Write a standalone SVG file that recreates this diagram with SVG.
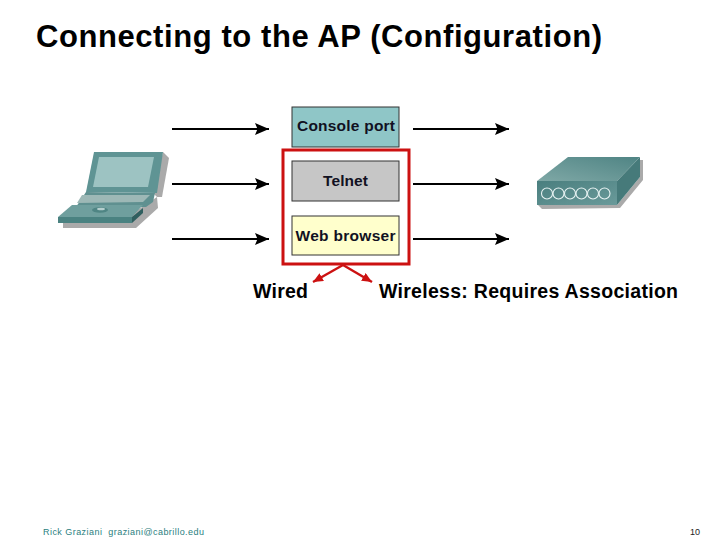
<svg xmlns="http://www.w3.org/2000/svg" width="720" height="540" viewBox="0 0 720 540">
<defs>
<marker id="ah" markerUnits="userSpaceOnUse" markerWidth="14" markerHeight="12" refX="14" refY="6" orient="auto"><path d="M0 0L14 6L0 12L2.500 6Z" fill="#000"/></marker>
<marker id="rh" markerUnits="userSpaceOnUse" markerWidth="10" markerHeight="9" refX="10" refY="4.500" orient="auto"><path d="M0 0L10 4.500L0 9Z" fill="#cc1111"/></marker>
<linearGradient id="top" x1="0" y1="1" x2="1" y2="0"><stop offset="0" stop-color="#7fa8a6"/><stop offset="1" stop-color="#4f8484"/></linearGradient>
<linearGradient id="side" x1="0" y1="0" x2="1" y2="1"><stop offset="0" stop-color="#4a7f7f"/><stop offset="1" stop-color="#6a9a9a"/></linearGradient>
</defs>
<style>
text{font-family:"Liberation Sans",Arial,sans-serif;fill:#000}
.box{stroke:#333;stroke-width:1}
.bl{font-size:15.500px;font-weight:bold;text-anchor:middle;fill:#112}
.lbl{font-size:19.500px;font-weight:bold}
.ar{stroke:#000;stroke-width:2.200;fill:none;marker-end:url(#ah)}
.rd{stroke:#cc1111;stroke-width:2.400;fill:none;marker-end:url(#rh)}
.foot{font-size:9px;fill:#2a8080;white-space:pre}
</style>
<text id="title" x="36" y="47" font-size="31" font-weight="bold" textLength="566" lengthAdjust="spacing">Connecting to the AP (Configuration)</text>
<g id="connectors">
<line class="ar" x1="172" y1="129" x2="269" y2="129"/>
<line class="ar" x1="172" y1="184" x2="269" y2="184"/>
<line class="ar" x1="172" y1="239" x2="269" y2="239"/>
<line class="ar" x1="413" y1="129" x2="509" y2="129"/>
<line class="ar" x1="413" y1="184" x2="509" y2="184"/>
<line class="ar" x1="413" y1="239" x2="509" y2="239"/>
<path class="rd" d="M343 265L313 282"/>
<path class="rd" d="M343 265L372 282"/>
</g>
<g id="laptop">
<path d="M63 223L63 228L136 228L158 208L157 197L130 215Z" fill="#aaa"/>
<path d="M163 152L169 158L162 197L157 197L153 193Z" fill="#aaa"/>
<path d="M94 152L163 152L157 193L86 192Z" fill="#5f9494"/>
<path d="M99 157L154 157L148 187L93 187Z" fill="#9dc3c2"/>
<path d="M86 192L155 193L153 202L146 207L76 207Z" fill="#5f9090"/>
<path d="M82 195L150 195L143 202L77 203Z" fill="#9db8b6"/>
<path d="M72 205L143 205L132 217L58 217Z" fill="#6f9f9e"/>
<path d="M58 217L132 217L132 223L58 223Z" fill="#4a8281"/>
<path d="M132 217L143 208L143 213L132 223Z" fill="#2f5f5f"/>
<ellipse cx="100" cy="210" rx="8" ry="2.800" fill="#4f8584"/>
<ellipse cx="101" cy="209" rx="4" ry="1.300" fill="#b5cfce"/>
</g>
<g id="console">
<rect class="box" x="292" y="107" width="107" height="40" fill="#8fc6c7"/>
<text class="bl" x="346" y="131" textLength="98">Console port</text>
</g>
<g id="telnet">
<rect class="box" x="292" y="161" width="107" height="40" fill="#c6c6c6"/>
<text class="bl" x="345.500" y="186" textLength="45">Telnet</text>
</g>
<g id="web">
<rect class="box" x="292" y="216" width="107" height="39" fill="#ffffcc"/>
<text class="bl" x="345.500" y="241" textLength="100">Web browser</text>
</g>
<rect id="group" x="283" y="150" width="126" height="114" fill="none" stroke="#cc1111" stroke-width="3"/>
<g id="ap">
<path d="M643 160L643 180L620 208L542 209L538 205L617 205L640 177L640 160Z" fill="#aaa"/>
<path d="M537 181L568 157L640 157L617 181Z" fill="url(#top)"/>
<path d="M617 181L640 157L640 177L617 205Z" fill="#467a7a"/>
<rect x="537" y="181" width="80" height="24" fill="url(#side)"/>
<g fill="none" stroke="#e8f3f3" stroke-width="1.100">
<circle cx="547" cy="193.500" r="5.500"/><circle cx="558.500" cy="193.500" r="5.500"/><circle cx="570" cy="193.500" r="5.500"/><circle cx="581.500" cy="193.500" r="5.500"/><circle cx="593" cy="193.500" r="5.500"/><circle cx="604.500" cy="193.500" r="5.500"/>
</g>
</g>
<text id="wired" class="lbl" x="253" y="298" textLength="55">Wired</text>
<text id="wireless" class="lbl" x="379" y="298" textLength="299">Wireless: Requires Association</text>
<text id="footer" class="foot" x="43" y="535" textLength="161">Rick Graziani  graziani@cabrillo.edu</text>
<text id="page" class="foot" x="690" y="535" style="fill:#222">10</text>
</svg>
